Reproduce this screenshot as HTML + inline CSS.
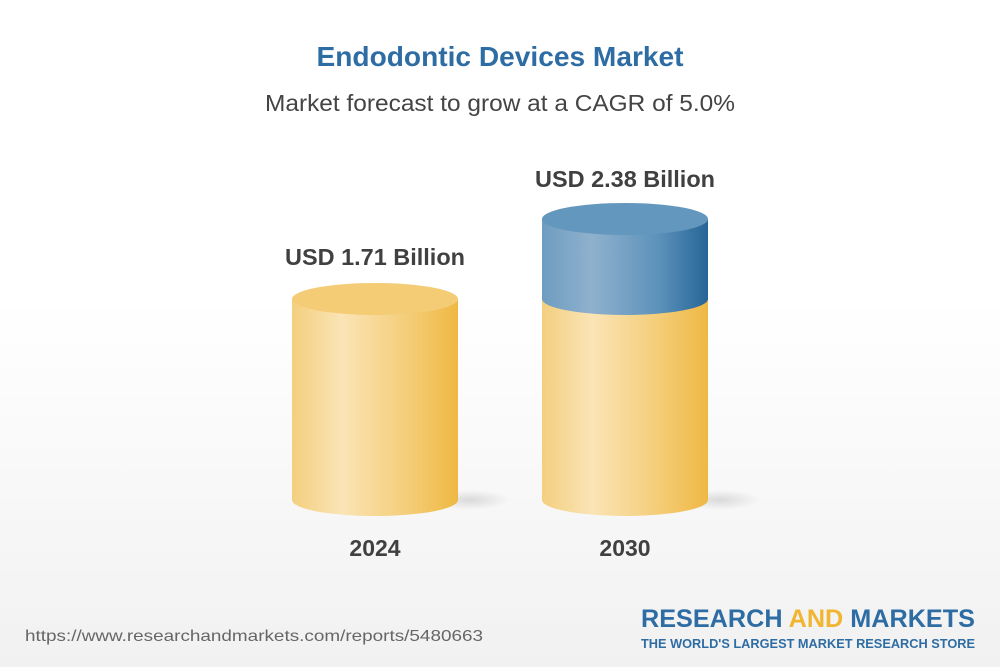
<!DOCTYPE html>
<html><head><style>
body{margin:0;width:1000px;height:667px;overflow:hidden;font-family:"Liberation Sans",sans-serif;background:linear-gradient(#fff 0%,#fff 45%,#f1f1f1 100%);position:relative}
</style></head><body>
<svg width="1000" height="667" style="position:absolute;left:0;top:0">
<defs>
<linearGradient id="y" x1="0" x2="1"><stop offset="0" stop-color="#f3cf7e"/><stop offset=".3" stop-color="#fae4b6"/><stop offset=".7" stop-color="#f4cd78"/><stop offset="1" stop-color="#efb843"/></linearGradient>
<linearGradient id="b" x1="0" x2="1"><stop offset="0" stop-color="#6e9cc0"/><stop offset=".3" stop-color="#8fb1cd"/><stop offset=".7" stop-color="#5d92bb"/><stop offset="1" stop-color="#266597"/></linearGradient>
<radialGradient id="sh"><stop offset="0" stop-color="#000" stop-opacity=".12"/><stop offset="1" stop-color="#000" stop-opacity="0"/></radialGradient>
</defs>
<g font-family="Liberation Sans,sans-serif" text-anchor="middle">
<text x="500" y="66" font-size="28" font-weight="bold" fill="#2e6da4" textLength="367" lengthAdjust="spacingAndGlyphs">Endodontic Devices Market</text>
<text x="500" y="111" font-size="23" fill="#444" textLength="470" lengthAdjust="spacingAndGlyphs">Market forecast to grow at a CAGR of 5.0%</text>
</g>
<ellipse cx="470" cy="500" rx="40" ry="10" fill="url(#sh)"/>
<ellipse cx="720" cy="500" rx="40" ry="10" fill="url(#sh)"/>
<path d="M292 299 V500 A83 16 0 0 0 458 500 V299 Z" fill="url(#y)"/>
<ellipse cx="375" cy="299" rx="83" ry="16" fill="#f4cc76"/>
<path d="M542 299 V500 A83 16 0 0 0 708 500 V299 Z" fill="url(#y)"/>
<path d="M542 219 V299 A83 16 0 0 0 708 299 V219 Z" fill="url(#b)"/>
<ellipse cx="625" cy="219" rx="83" ry="16" fill="#6497bd"/>
<g font-family="Liberation Sans,sans-serif" font-weight="bold" fill="#404040" text-anchor="middle">
<text x="375" y="265" font-size="23" textLength="180" lengthAdjust="spacingAndGlyphs">USD 1.71 Billion</text>
<text x="625" y="187" font-size="23" textLength="180" lengthAdjust="spacingAndGlyphs">USD 2.38 Billion</text>
<text x="375" y="556" font-size="23">2024</text>
<text x="625" y="556" font-size="23">2030</text>
</g>
<text x="25" y="641" font-size="16" fill="#666" font-family="Liberation Sans,sans-serif" textLength="458" lengthAdjust="spacingAndGlyphs">https://www.researchandmarkets.com/reports/5480663</text>
<g font-family="Liberation Sans,sans-serif" font-weight="bold">
<text x="641" y="627" font-size="25" fill="#2e6da4" textLength="334" lengthAdjust="spacingAndGlyphs">RESEARCH <tspan fill="#f2b531">AND</tspan> MARKETS</text>
<text x="641" y="648" font-size="12.5" fill="#2e6da4" textLength="334" lengthAdjust="spacingAndGlyphs">THE WORLD'S LARGEST MARKET RESEARCH STORE</text>
</g>
</svg>
</body></html>
